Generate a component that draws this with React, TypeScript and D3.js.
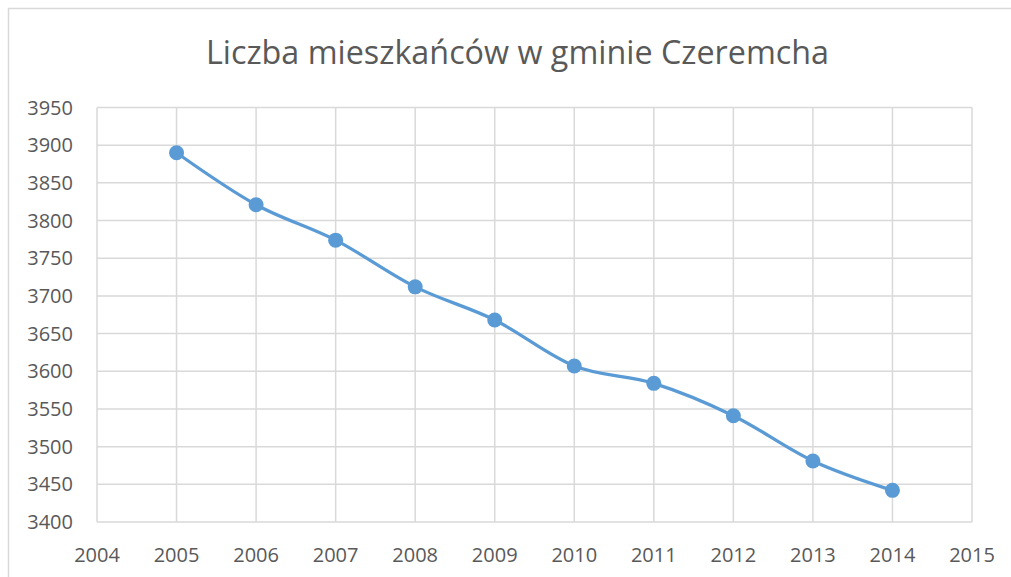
import { useEffect, useRef } from "react";
import * as d3 from "d3";

const years = [2005, 2006, 2007, 2008, 2009, 2010, 2011, 2012, 2013, 2014];
const residents = [3890, 3821, 3774, 3712, 3668, 3607, 3584, 3541, 3481, 3442];
const xTicks = [2004, 2005, 2006, 2007, 2008, 2009, 2010, 2011, 2012, 2013, 2014, 2015];
const yTicks = [3400, 3450, 3500, 3550, 3600, 3650, 3700, 3750, 3800, 3850, 3900, 3950];
const title = "Liczba mieszkańców w gminie Czeremcha";

export default function App() {
  const svgRef = useRef<SVGSVGElement>(null);

  useEffect(() => {
    if (!svgRef.current) return;
    const svg = d3.select(svgRef.current);
    svg.selectAll("*").remove();

    const width = 1011;
    const height = 577;
    const font = "'Open Sans', 'Noto Sans', sans-serif";
    const grid = "#d9d9d9";
    const textColor = "#595959";

    // chart frame, runs off the right and bottom edge
    svg
      .append("rect")
      .attr("x", 8.5)
      .attr("y", 8.5)
      .attr("width", width + 20)
      .attr("height", height + 20)
      .attr("fill", "#fff")
      .attr("stroke", grid)
      .attr("stroke-width", 1.5);

    const x = d3.scaleLinear().domain([2004, 2015]).range([97, 972]);
    const y = d3.scaleLinear().domain([3400, 3950]).range([522, 107.5]);

    const g = svg.append("g");

    g.selectAll("line.h")
      .data(yTicks)
      .join("line")
      .attr("class", "h")
      .attr("x1", x(2004))
      .attr("x2", x(2015))
      .attr("y1", (d) => y(d))
      .attr("y2", (d) => y(d))
      .attr("stroke", grid)
      .attr("stroke-width", 1.5);

    g.selectAll("line.v")
      .data(xTicks)
      .join("line")
      .attr("class", "v")
      .attr("x1", (d) => x(d))
      .attr("x2", (d) => x(d))
      .attr("y1", y(3950))
      .attr("y2", y(3400))
      .attr("stroke", grid)
      .attr("stroke-width", 1.5);

    g.selectAll("text.yl")
      .data(yTicks)
      .join("text")
      .attr("class", "yl")
      .attr("x", 73)
      .attr("y", (d) => y(d))
      .attr("dy", "0.35em")
      .attr("text-anchor", "end")
      .attr("font-family", font)
      .attr("font-size", 20)
      .attr("fill", textColor)
      .text((d) => d);

    g.selectAll("text.xl")
      .data(xTicks)
      .join("text")
      .attr("class", "xl")
      .attr("x", (d) => x(d))
      .attr("y", 562)
      .attr("text-anchor", "middle")
      .attr("font-family", font)
      .attr("font-size", 20)
      .attr("fill", textColor)
      .text((d) => d);

    const pts = years.map((yr, i) => [yr, residents[i]] as [number, number]);

    const line = d3
      .line<[number, number]>()
      .x((d) => x(d[0]))
      .y((d) => y(d[1]))
      .curve(d3.curveCardinal.tension(0));

    g.append("path")
      .datum(pts)
      .attr("fill", "none")
      .attr("stroke", "#5b9bd5")
      .attr("stroke-width", 3.25)
      .attr("stroke-linejoin", "round")
      .attr("d", line);

    g.selectAll("circle")
      .data(pts)
      .join("circle")
      .attr("cx", (d) => x(d[0]))
      .attr("cy", (d) => y(d[1]))
      .attr("r", 7.5)
      .attr("fill", "#5b9bd5");

    svg
      .append("text")
      .attr("x", 517.5)
      .attr("y", 64)
      .attr("text-anchor", "middle")
      .attr("font-family", font)
      .attr("font-size", 32.3)
      .attr("fill", textColor)
      .text(title);
  }, []);

  return (
    <svg
      ref={svgRef}
      width={1011}
      height={577}
      style={{ position: "absolute", left: 0, top: 0, background: "#fff" }}
    />
  );
}
